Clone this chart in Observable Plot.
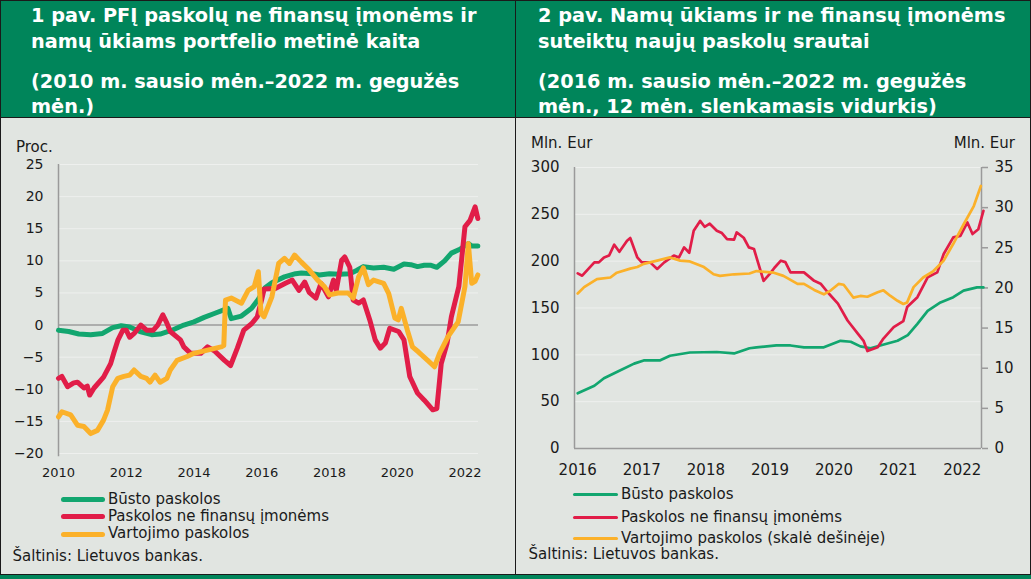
<!DOCTYPE html>
<html><head><meta charset="utf-8">
<script src="https://cdn.jsdelivr.net/npm/d3@7"></script>
<script src="https://cdn.jsdelivr.net/npm/@observablehq/plot@0.6"></script>
<style>
body{margin:0;background:#fff;}
#wrap{position:relative;width:1031px;height:579px;overflow:hidden;background:#00855a;font-family:"DejaVu Sans",Verdana,sans-serif;color:#1a1a1a;}
.panel{position:absolute;top:0;height:575px;background:#e1e5e1;border:1px solid #1a1a1a;box-sizing:border-box;}
.head{position:absolute;top:0;height:118px;background:#00855a;border:1px solid #1a1a1a;box-sizing:border-box;}
.ht{position:absolute;white-space:nowrap;color:#fff;font-weight:bold;font-size:19.3px;line-height:25.5px;}
.t{position:absolute;white-space:nowrap;font-size:15px;line-height:18px;}
.chart{position:absolute;top:118px;}
.lg{position:absolute;border-radius:3px;}
</style></head>
<body><div id="wrap">
<div class="panel" style="left:0;width:516px"></div>
<div class="panel" style="left:515px;width:516px"></div>
<div class="head" style="left:0;width:516px"></div>
<div class="head" style="left:515px;width:516px"></div>
<div class="ht" style="left:31px;top:3px">1 pav. PFĮ paskolų ne finansų įmonėms ir<br>namų ūkiams portfelio metinė kaita</div>
<div class="ht" style="left:31px;top:68.6px">(2010 m. sausio mėn.–2022 m. gegužės<br>mėn.)</div>
<div class="ht" style="left:538px;top:3px">2 pav. Namų ūkiams ir ne finansų įmonėms<br>suteiktų naujų paskolų srautai</div>
<div class="ht" style="left:538px;top:68.6px">(2016 m. sausio mėn.–2022 m. gegužės<br>mėn., 12 mėn. slenkamasis vidurkis)</div>
<div class="t" style="left:16px;top:138px">Proc.</div>
<div class="t" style="left:531px;top:134px">Mln. Eur</div>
<div class="t" style="right:16px;top:134px">Mln. Eur</div>
<div id="c1" class="chart" style="left:0"></div>
<div id="c2" class="chart" style="left:516px"></div>
<div id="leg1"></div>
<div id="leg2"></div>
<div class="t" style="left:12.5px;top:547px">Šaltinis: Lietuvos bankas.</div>
<div class="t" style="left:528.5px;top:545px">Šaltinis: Lietuvos bankas.</div>
</div>
<script>
// ---------- Chart 1 data (annual change, %) ----------
const seriesNames1 = ["Būsto paskolos", "Paskolos ne finansų įmonėms", "Vartojimo paskolos"];
const seriesNames2 = ["Būsto paskolos", "Paskolos ne finansų įmonėms", "Vartojimo paskolos (skalė dešinėje)"];
const colors = ["#12a66f", "#e11d48", "#fbb12a"];

const busto1 = [[2010.0,-0.8],[2010.3,-1.0],[2010.6,-1.4],[2010.95,-1.5],[2011.3,-1.3],[2011.6,-0.4],[2011.85,-0.1],[2012.1,-0.3],[2012.4,-1.0],[2012.75,-1.5],[2013.0,-1.4],[2013.35,-0.8],[2013.7,0.0],[2014.0,0.5],[2014.3,1.2],[2014.6,1.8],[2014.9,2.4],[2015.0,2.6],[2015.1,1.0],[2015.4,1.4],[2015.7,2.6],[2015.9,4.0],[2016.1,5.8],[2016.3,6.6],[2016.67,7.5],[2017.0,8.0],[2017.17,8.1],[2017.5,8.0],[2017.7,7.8],[2018.0,8.0],[2018.3,7.9],[2018.6,8.0],[2018.8,8.5],[2019.0,9.1],[2019.3,8.9],[2019.6,9.0],[2019.9,8.7],[2020.2,9.5],[2020.4,9.4],[2020.6,9.1],[2020.8,9.3],[2021.0,9.3],[2021.17,9.0],[2021.4,10.0],[2021.6,11.2],[2021.85,11.8],[2022.1,12.7],[2022.2,12.3],[2022.38,12.3]];

const firms1 = [[2010.0,-8.3],[2010.1,-8.0],[2010.27,-9.6],[2010.45,-9.0],[2010.56,-8.9],[2010.75,-9.8],[2010.85,-9.5],[2010.92,-10.9],[2011.05,-9.8],[2011.33,-8.1],[2011.54,-6.0],[2011.63,-4.4],[2011.75,-2.4],[2011.9,-0.8],[2012.0,-0.8],[2012.1,-1.9],[2012.25,-1.2],[2012.43,0.0],[2012.6,-0.8],[2012.8,-0.8],[2012.93,0.0],[2013.08,1.6],[2013.2,0.3],[2013.3,-1.0],[2013.6,-2.3],[2013.7,-3.4],[2013.9,-4.4],[2014.2,-4.4],[2014.4,-3.4],[2014.6,-4.0],[2014.9,-5.5],[2015.08,-6.3],[2015.28,-3.6],[2015.47,-0.8],[2015.7,0.2],[2015.87,1.3],[2016.0,4.0],[2016.07,5.6],[2016.4,5.7],[2016.7,6.5],[2016.9,7.0],[2017.1,5.4],[2017.27,6.7],[2017.4,5.1],[2017.6,4.2],[2017.75,6.5],[2017.97,4.4],[2018.12,7.0],[2018.2,5.4],[2018.36,10.1],[2018.45,10.6],[2018.6,9.0],[2018.7,3.9],[2018.86,3.4],[2019.0,3.9],[2019.19,0.8],[2019.35,-2.3],[2019.5,-3.6],[2019.65,-2.8],[2019.78,-0.5],[2020.04,-1.0],[2020.2,-2.3],[2020.37,-8.0],[2020.6,-10.6],[2020.8,-11.7],[2021.05,-13.2],[2021.17,-13.0],[2021.3,-6.0],[2021.47,-2.9],[2021.6,1.3],[2021.82,6.0],[2022.0,15.3],[2022.15,16.3],[2022.3,18.4],[2022.38,16.6]];

const consumer1 = [[2010.0,-14.3],[2010.1,-13.5],[2010.36,-14.0],[2010.56,-15.6],[2010.75,-15.8],[2010.95,-16.9],[2011.15,-16.4],[2011.33,-14.8],[2011.45,-13.2],[2011.6,-9.6],[2011.75,-8.3],[2011.93,-8.0],[2012.1,-7.8],[2012.23,-7.0],[2012.43,-8.0],[2012.6,-8.3],[2012.7,-8.9],[2012.85,-7.8],[2013.0,-8.9],[2013.2,-8.3],[2013.3,-7.0],[2013.5,-5.5],[2013.8,-4.9],[2014.0,-4.4],[2014.4,-3.9],[2014.8,-3.4],[2014.88,-3.2],[2014.93,3.9],[2015.1,4.2],[2015.4,3.4],[2015.6,5.4],[2015.78,6.0],[2015.9,8.3],[2015.98,1.8],[2016.07,1.3],[2016.3,4.4],[2016.5,9.6],[2016.67,10.4],[2016.82,9.6],[2016.97,10.9],[2017.17,9.8],[2017.4,8.6],[2017.65,7.0],[2017.85,6.0],[2018.0,4.7],[2018.25,5.0],[2018.55,5.0],[2018.7,4.2],[2018.86,7.5],[2019.0,8.9],[2019.15,6.3],[2019.3,7.0],[2019.6,6.5],[2019.75,4.9],[2019.93,1.1],[2020.03,0.8],[2020.12,2.6],[2020.3,-0.8],[2020.45,-3.4],[2020.63,-4.2],[2020.9,-5.5],[2021.1,-6.5],[2021.25,-4.4],[2021.5,-1.8],[2021.8,0.5],[2022.0,6.0],[2022.1,12.7],[2022.2,6.5],[2022.3,6.8],[2022.38,7.8]];

const ticksX1 = [2010, 2012, 2014, 2016, 2018, 2020, 2022];
const ticksY1 = [-20, -15, -10, -5, 0, 5, 10, 15, 20, 25];

// ---------- Chart 2 data (new loans, mln. EUR, 12-month moving average) ----------
const busto2 = [[2016.0,59],[2016.26,67],[2016.41,75],[2016.61,81.6],[2016.88,90.6],[2017.03,94],[2017.28,94],[2017.44,99],[2017.75,102.5],[2018.17,103],[2018.44,101.5],[2018.68,107],[2018.79,108],[2019.1,110],[2019.32,110],[2019.53,108],[2019.84,108],[2020.1,115],[2020.26,114],[2020.41,109],[2020.57,107],[2020.72,110],[2020.99,115],[2021.15,121],[2021.3,133],[2021.46,147],[2021.66,156],[2021.86,161.5],[2022.02,168.6],[2022.23,172],[2022.33,172]];

const firms2 = [[2016.0,187],[2016.07,184.5],[2016.26,198.7],[2016.33,198.7],[2016.41,204],[2016.49,206],[2016.57,217.6],[2016.65,210],[2016.77,221.8],[2016.82,224.7],[2016.93,204],[2017.0,198.7],[2017.13,198.7],[2017.24,191.7],[2017.35,198.7],[2017.5,206],[2017.58,204],[2017.66,214.7],[2017.74,209],[2017.81,232.5],[2017.91,243],[2017.98,236.7],[2018.06,240],[2018.17,232.5],[2018.25,230],[2018.33,223.6],[2018.44,223],[2018.48,230.7],[2018.59,225],[2018.67,214.7],[2018.75,213],[2018.82,197],[2018.9,179],[2019.0,186.7],[2019.07,193],[2019.17,200.5],[2019.24,199],[2019.32,188],[2019.53,188],[2019.69,179],[2019.79,176],[2019.9,166.8],[2020.06,154.7],[2020.21,136.7],[2020.37,122.7],[2020.46,115],[2020.52,104],[2020.68,108],[2020.77,117.4],[2020.93,129.5],[2021.08,136],[2021.14,151],[2021.3,161.5],[2021.46,182.8],[2021.61,188],[2021.71,207.7],[2021.86,225.4],[2021.97,227],[2022.08,241.3],[2022.16,229],[2022.25,234],[2022.33,253.8]];

// right-hand scale (mln. EUR)
const consumer2 = [[2016.0,19.3],[2016.1,20.1],[2016.3,21.1],[2016.51,21.3],[2016.61,21.9],[2016.82,22.4],[2016.93,22.6],[2017.03,23.0],[2017.24,23.4],[2017.44,23.8],[2017.6,23.4],[2017.75,23.3],[2017.97,22.6],[2018.12,21.7],[2018.22,21.5],[2018.44,21.7],[2018.68,21.8],[2018.79,22.1],[2019.06,21.9],[2019.21,21.5],[2019.43,20.5],[2019.53,20.5],[2019.69,19.75],[2019.84,19.2],[2019.95,19.7],[2020.07,20.5],[2020.15,20.4],[2020.3,18.8],[2020.41,19.0],[2020.52,18.9],[2020.68,19.45],[2020.77,19.7],[2020.88,19.0],[2020.99,18.4],[2021.08,18.0],[2021.14,18.2],[2021.24,20.1],[2021.39,21.3],[2021.55,22.1],[2021.71,23.4],[2021.86,25.5],[2022.02,27.9],[2022.18,30.2],[2022.29,32.7]];

const ticksX2 = [2016, 2017, 2018, 2019, 2020, 2021, 2022];
const ticksYL2 = [0, 50, 100, 150, 200, 250, 300];
const ticksYR2 = [0, 5, 10, 15, 20, 25, 30, 35];
const leftMax2 = 300, rightMax2 = 35;

const gridColor = "#eef0ee";
const axisColor = "#9a9a9a";
const fx = d => d[0], fy = d => d[1];
const style = {background:"transparent", fontFamily:"DejaVu Sans", color:"#1a1a1a", overflow:"visible"};

const chart1 = Plot.plot({
  width:515, height:362, marginLeft:58, marginRight:37, marginTop:46, marginBottom:27,
  style,
  x:{domain:[2010, 2022.4]},
  y:{domain:[-20, 25]},
  marks:[
    Plot.gridY(ticksY1, {stroke:gridColor, strokeOpacity:1, strokeWidth:1}),
    Plot.ruleY([0], {stroke:axisColor, strokeWidth:1.5}),
    Plot.ruleX([2010], {y1:-20.5, y2:25, stroke:axisColor, strokeWidth:1.5}),
    Plot.axisY(ticksY1, {tickSize:0, tickPadding:15, fontSize:14, label:null}),
    Plot.axisX(ticksX1, {tickSize:0, tickPadding:14, fontSize:13, label:null, tickFormat:"d"}),
    Plot.line(busto1, {x:fx, y:fy, stroke:colors[0], strokeWidth:5}),
    Plot.line(firms1, {x:fx, y:fy, stroke:colors[1], strokeWidth:5}),
    Plot.line(consumer1, {x:fx, y:fy, stroke:colors[2], strokeWidth:5})
  ]
});
document.getElementById("c1").appendChild(chart1);

const toLeft = v => v * leftMax2 / rightMax2;
const chart2 = Plot.plot({
  width:515, height:362, marginLeft:58, marginRight:50, marginTop:49, marginBottom:32,
  style,
  x:{domain:[2015.95, 2022.3]},
  y:{domain:[0, leftMax2]},
  marks:[
    Plot.gridY(ticksYL2, {stroke:gridColor, strokeOpacity:1, strokeWidth:1}),
    Plot.ruleY([0], {stroke:axisColor, strokeWidth:1.5}),
    Plot.ruleX([2015.95, 2022.3], {stroke:axisColor, strokeWidth:1.5}),
    Plot.axisY(ticksYL2, {tickSize:0, tickPadding:15, fontSize:15, label:null}),
    Plot.axisY(ticksYR2.map(toLeft), {anchor:"right", tickSize:6, tickPadding:7, stroke:axisColor, strokeWidth:1.5, fill:"#1a1a1a", fontSize:15, label:null, tickFormat:d => String(Math.round(d * rightMax2 / leftMax2))}),
    Plot.axisX(ticksX2, {tickSize:0, tickPadding:16, fontSize:15, label:null, tickFormat:"d"}),
    Plot.line(busto2, {x:fx, y:fy, stroke:colors[0], strokeWidth:2.7}),
    Plot.line(firms2, {x:fx, y:fy, stroke:colors[1], strokeWidth:2.7}),
    Plot.line(consumer2, {x:fx, y:d => toLeft(d[1]), stroke:colors[2], strokeWidth:2.7})
  ]
});
document.getElementById("c2").appendChild(chart2);

// legends
function legend(id, names, x0, lineW, thick, centers, textX) {
  const el = document.getElementById(id);
  names.forEach((n, i) => {
    const l = document.createElement("div");
    l.className = "lg";
    l.style.cssText = `left:${x0}px;top:${centers[i] - thick/2}px;width:${lineW}px;height:${thick}px;background:${colors[i]}`;
    el.appendChild(l);
    const t = document.createElement("div");
    t.className = "t";
    t.style.cssText = `left:${textX}px;top:${centers[i] + 4.5 - 14.2}px`;
    t.textContent = n;
    el.appendChild(t);
  });
}
legend("leg1", seriesNames1, 61, 44, 5, [499.3, 516.7, 534], 108);
legend("leg2", seriesNames2, 573, 45, 2.7, [494.3, 517.3, 538.3], 621);
</script>
</body></html>
